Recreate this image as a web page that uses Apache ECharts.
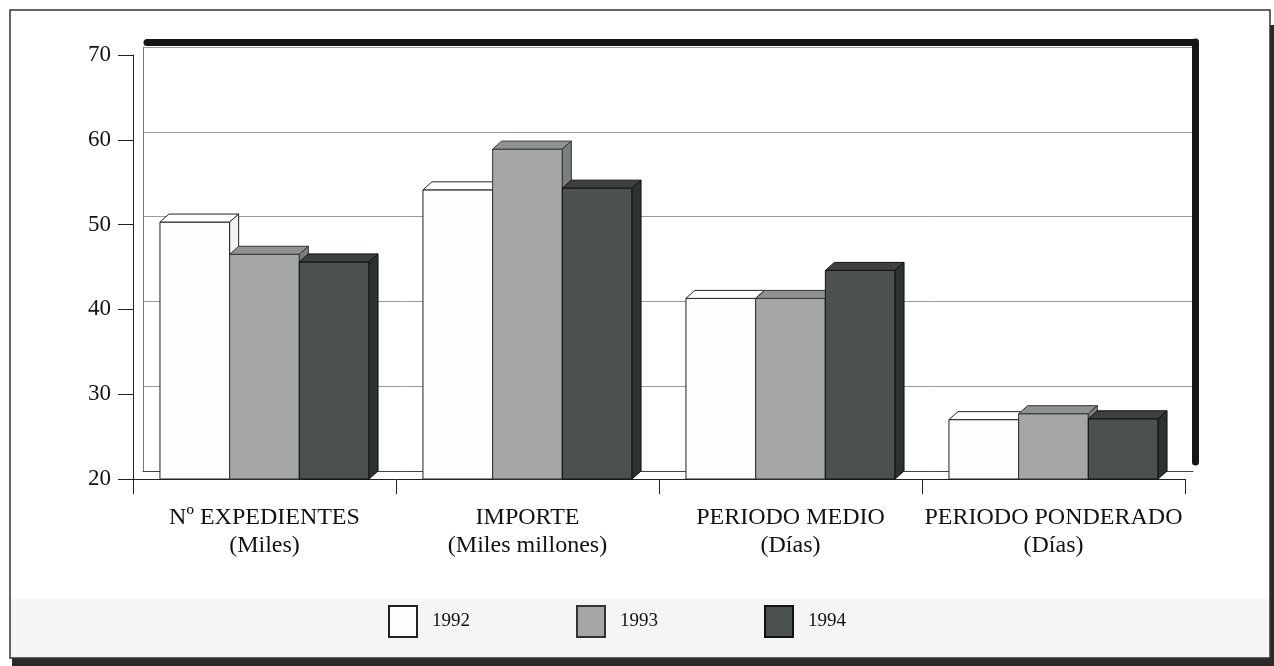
<!DOCTYPE html>
<html>
<head>
<meta charset="utf-8">
<script src="https://cdn.jsdelivr.net/npm/echarts@6/dist/echarts.min.js"></script>
<style>
  html, body { margin: 0; padding: 0; background: #fff; }
  #chart { width: 1274px; height: 666px; }
</style>
</head>
<body>
<div id="chart"></div>
<script>
var categories = ['Nº EXPEDIENTES\n(Miles)', 'IMPORTE\n(Miles millones)', 'PERIODO MEDIO\n(Días)', 'PERIODO PONDERADO\n(Días)'];
var years = ['1992', '1993', '1994'];
var values1992 = [50.3, 54.1, 41.3, 27.0];
var values1993 = [46.5, 58.9, 41.3, 27.7];
var values1994 = [45.6, 54.3, 44.6, 27.1];
var yTicks = [20, 30, 40, 50, 60, 70];

var seriesValues = [values1992, values1993, values1994];
// front / top / side colours for the pseudo 3D boxes
var faces = [
  { front: '#fdfdfd', top: '#ffffff', side: '#f2f2f2', stroke: '#222' },
  { front: '#a4a6a7', top: '#8f9292', side: '#7c7f80', stroke: '#333' },
  { front: '#4b5050', top: '#3c4040', side: '#2e3131', stroke: '#111' }
];
var DX = 9, DY = 8;

function makeRender(idx) {
  return function (params, api) {
    var c = api.value(0);
    var top = api.coord([c, api.value(1)]);
    var base = api.coord([c, yTicks[0]]);
    var catW = api.size([1, 0])[0];
    var w = catW * 0.265;
    var x0 = top[0] - 1.5 * w + idx * w;
    var yt = top[1], yb = base[1];
    var f = faces[idx];
    var st = { stroke: f.stroke, lineWidth: 1 };
    return {
      type: 'group',
      children: [
        { type: 'rect', shape: { x: x0, y: yt, width: w, height: yb - yt },
          style: Object.assign({ fill: f.front }, st) },
        { type: 'polygon', shape: { points: [[x0, yt], [x0 + DX, yt - DY], [x0 + w + DX, yt - DY], [x0 + w, yt]] },
          style: Object.assign({ fill: f.top }, st) },
        { type: 'polygon', shape: { points: [[x0 + w, yt], [x0 + w + DX, yt - DY], [x0 + w + DX, yb - DY], [x0 + w, yb]] },
          style: Object.assign({ fill: f.side }, st) }
      ]
    };
  };
}

var series = years.map(function (y, i) {
  return {
    name: y,
    type: 'custom',
    xAxisIndex: 0,
    yAxisIndex: 0,
    renderItem: makeRender(i),
    itemStyle: { color: faces[i].front, borderColor: faces[i].stroke, borderWidth: 1 },
    encode: { x: 0, y: 1 },
    data: seriesValues[i].map(function (v, c) { return [c, v]; }),
    z: 3
  };
});

var font = 'Liberation Serif';

var option = {
  backgroundColor: '#fff',
  animation: false,
  textStyle: { fontFamily: font },
  graphic: [
    { type: 'rect', z: -10, shape: { x: 12, y: 25, width: 1262, height: 641 }, style: { fill: '#2a2a2a' } },
    { type: 'rect', z: -9, shape: { x: 10, y: 10, width: 1260, height: 648 }, style: { fill: '#fff', stroke: '#333', lineWidth: 1.5 } },
    { type: 'rect', z: -8, shape: { x: 11, y: 599, width: 1258, height: 58 }, style: { fill: '#f5f5f5' } }
  ],
  grid: [
    { left: 133, top: 55, right: 89, bottom: 187 },
    { left: 143, top: 47, right: 81, bottom: 195 },
    { left: 147, top: 42, right: 79, bottom: 204 }
  ],
  xAxis: [
    {
      gridIndex: 0, type: 'category', data: categories,
      axisLine: { lineStyle: { color: '#222', width: 1 } },
      axisTick: { show: true, length: 15, interval: 0, lineStyle: { color: '#222' } },
      axisLabel: { color: '#111', fontSize: 24, fontFamily: font, lineHeight: 28, margin: 25, interval: 0 }
    },
    { gridIndex: 1, type: 'category', data: categories,
      axisLine: { lineStyle: { color: '#444', width: 1 } }, axisLabel: { show: false }, axisTick: { show: false } },
    { gridIndex: 2, type: 'category', data: categories, position: 'top',
      axisLine: { lineStyle: { color: '#151515', width: 7 } }, axisLabel: { show: false }, axisTick: { show: false } }
  ],
  yAxis: [
    {
      gridIndex: 0, type: 'value', min: 20, max: 70, interval: 10,
      axisLine: { show: true, lineStyle: { color: '#222' } },
      axisTick: { show: true, length: 15, lineStyle: { color: '#222' } },
      splitLine: { show: false },
      axisLabel: { color: '#111', fontSize: 23, fontFamily: font, margin: 22 }
    },
    {
      gridIndex: 1, type: 'value', min: 20, max: 70, interval: 10,
      axisLine: { show: true, lineStyle: { color: '#777' } },
      axisTick: { show: false }, axisLabel: { show: false },
      splitLine: { show: true, lineStyle: { color: '#9a9a9a', width: 1 } }
    },
    {
      gridIndex: 2, type: 'value', min: 20, max: 70, position: 'right',
      axisLine: { show: true, lineStyle: { color: '#151515', width: 7 } },
      axisTick: { show: false }, axisLabel: { show: false }, splitLine: { show: false }
    }
  ],
  legend: {
    data: years,
    left: 383,
    top: 600,
    icon: 'rect',
    itemWidth: 28,
    itemHeight: 31,
    itemGap: 106,
    textStyle: { fontSize: 19, color: '#111', fontFamily: font, padding: [0, 0, 0, 10] }
  },
  series: series
};

var chart = echarts.init(document.getElementById('chart'));
chart.setOption(option);
</script>
</body>
</html>
